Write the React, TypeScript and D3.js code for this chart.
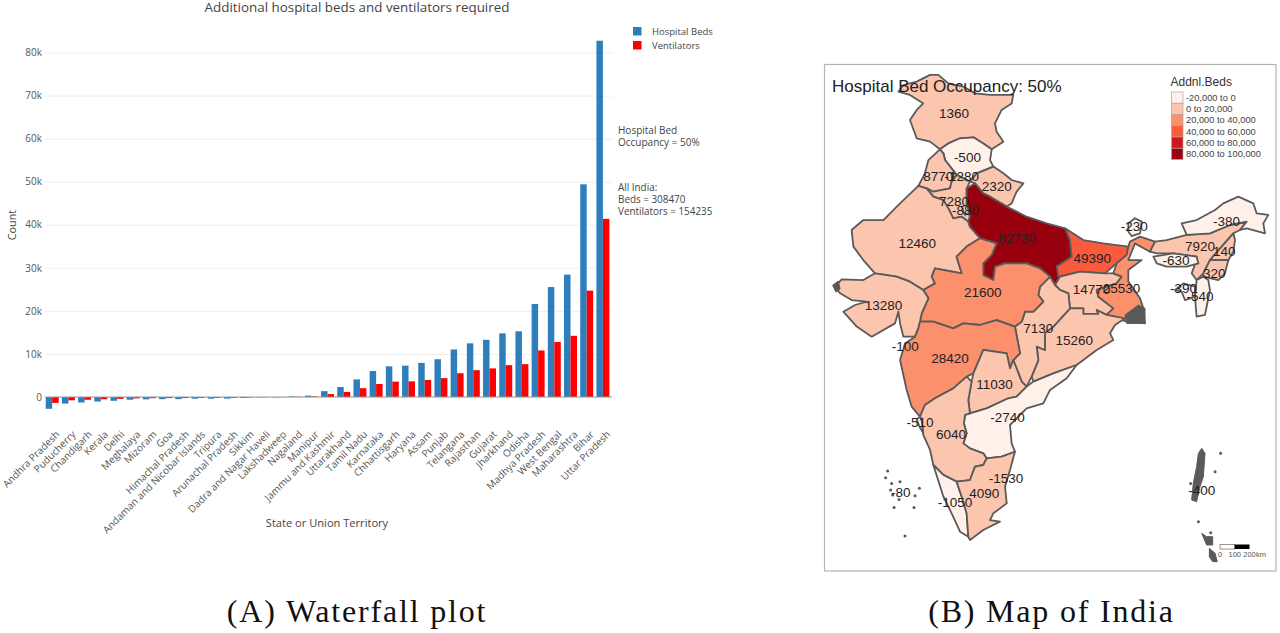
import React, { useEffect, useRef } from "react";
import * as d3 from "d3";

type LonLat = [number, number];

const states = [
  "Andhra Pradesh", "Puducherry", "Chandigarh", "Kerala", "Delhi", "Meghalaya", "Mizoram", "Goa",
  "Himachal Pradesh", "Andaman and Nicobar Islands", "Tripura", "Arunachal Pradesh", "Sikkim",
  "Dadra and Nagar Haveli", "Lakshadweep", "Nagaland", "Manipur", "Jammu and Kashmir", "Uttarakhand",
  "Tamil Nadu", "Karnataka", "Chhattisgarh", "Haryana", "Assam", "Punjab", "Telangana", "Rajasthan",
  "Gujarat", "Jharkhand", "Odisha", "Madhya Pradesh", "West Bengal", "Maharashtra", "Bihar", "Uttar Pradesh",
];

const beds = [
  -2740, -1530, -1280, -1050, -880, -630, -540, -510, -500, -400, -390, -380, -230, -100, -80, 140, 320,
  1360, 2320, 4090, 6040, 7130, 7280, 7920, 8770, 11030, 12460, 13280, 14770, 15260, 21600, 25530, 28420,
  49390, 82730,
];

const ventilators = [
  -1370, -765, -640, -525, -440, -315, -270, -255, -250, -200, -195, -190, -115, -50, -40, 70, 160,
  680, 1160, 2045, 3020, 3565, 3640, 3960, 4385, 5515, 6230, 6640, 7385, 7630, 10800, 12765, 14210,
  24695, 41365,
];

const yTicks = [0, 10000, 20000, 30000, 40000, 50000, 60000, 70000, 80000];
const seriesNames = ["Hospital Beds", "Ventilators"];
const seriesColors = ["#2e7ebb", "#ff0000"];

const binEdges = [0, 20000, 40000, 60000, 80000];
const binColors = ["#fff1ea", "#fcc5ae", "#fc8f6c", "#fb5a3c", "#d5141b", "#99000d"];
const binLabels = [
  "-20,000 to 0", "0 to 20,000", "20,000 to 40,000", "40,000 to 60,000", "60,000 to 80,000", "80,000 to 100,000",
];

// state outlines, lon/lat
const outlines: Record<string, LonLat[]> = {
  "Jammu and Kashmir": [[72.56,35.83],[72.89,36.25],[73.78,36.46],[74.67,36.88],[75.22,36.88],[75.89,36.35],[76.89,36.15],[77.67,35.73],[78.67,35.63],[80.22,35.63],[80.11,35.1],[79.44,34.69],[79,33.85],[79.11,33.33],[79.56,32.71],[78.78,32.23],[78.22,32.6],[77.56,32.98],[76.67,32.92],[75.89,32.6],[75.33,32.23],[74.67,32.71],[73.78,32.92],[73.33,34.06],[73.78,34.69],[74.22,35.1],[73.33,35.63]],
  "Himachal Pradesh": [[75.89,32.6],[76.67,32.92],[77.56,32.98],[78.22,32.6],[78.78,32.23],[78.67,31.56],[78.89,31.15],[77.78,30.73],[77.33,30.21],[76.44,30.63],[75.67,31.56],[75.56,31.98],[75.33,32.23]],
  Punjab: [[74.56,31.56],[75.33,32.23],[75.56,31.98],[75.67,31.56],[76.44,30.63],[76.11,30.21],[76,29.79],[74.89,29.58],[74.44,29.79],[73.89,29.94],[74.33,30.73]],
  Haryana: [[74.44,29.79],[74.89,29.58],[76,29.79],[76.11,30.21],[76.44,30.63],[77.33,30.21],[77.11,29.79],[77.11,28.85],[77.33,28.02],[77.22,27.71],[76.78,28.02],[76.22,27.92],[75.89,28.54],[75.56,29.06],[74.89,29.27]],
  Delhi: [[76.78,28.65],[77.22,28.75],[77.38,28.33],[77,28.13]],
  Chandigarh: [[76.18,30.73],[76.4,30.69],[76.33,30.48],[76.13,30.52]],
  Uttarakhand: [[77.78,30.73],[78.89,31.15],[79.56,30.73],[80.11,30.31],[80.89,30.1],[80.44,29.58],[80.11,28.85],[79.78,28.65],[78.67,29.27],[78.22,29.48],[77.67,30.1],[77.33,30.21]],
  Rajasthan: [[69.44,27.19],[70.22,27.81],[71.56,27.81],[72.67,28.85],[73.89,29.94],[74.44,29.79],[74.89,29.27],[75.56,29.06],[75.89,28.54],[76.22,27.92],[76.78,28.02],[77.22,27.71],[77.33,27.4],[78,26.67],[77.11,26.15],[76.44,25.52],[76.78,24.48],[75,24.79],[74.78,24.27],[75,23.85],[74.22,23.44],[73.33,23.96],[72.44,24.27],[71,24.48],[70.22,25.31],[69.56,26.15]],
  "Uttar Pradesh": [[77.11,29.79],[77.67,30.1],[78.22,29.48],[78.67,29.27],[79.78,28.65],[81.11,28.02],[82.44,27.6],[83.67,27.29],[84,26.56],[84.11,25.52],[83.11,24.9],[83.33,24.27],[83,23.75],[82.67,24.27],[82,24.79],[81.11,25.1],[79.67,25.1],[79,24.9],[78.89,24.06],[78.22,24.37],[78.22,25.1],[78.78,25.63],[79.11,26.35],[78,26.67],[77.33,27.4],[77.22,27.71],[77.33,28.02],[77.11,28.85]],
  Bihar: [[83.67,27.29],[84.89,26.56],[86.22,26.35],[87.89,26.15],[87.78,25.63],[87.11,25.1],[86.33,24.48],[84.67,24.58],[83.22,24.27],[83.11,24.9],[84.11,25.52],[84,26.56]],
  Jharkhand: [[83.33,24.27],[84.67,24.58],[86.33,24.48],[86.89,24.48],[87.44,24.27],[87.11,23.85],[85.78,23.44],[85.89,23.02],[86.89,22.29],[86.44,21.88],[85.78,22.19],[85.89,21.94],[84.89,21.94],[84.89,22.29],[84,22.29],[83.89,23.23],[83.33,23.44],[83,23.75]],
  "West Bengal": [[88,26.46],[88.67,26.77],[89.67,26.46],[89.33,25.83],[88.33,26.35],[87.89,25.31],[88.78,25.31],[87.89,24.69],[87.89,23.96],[88.67,22.92],[88.89,22.29],[89,21.35],[87.78,21.46],[86.44,21.88],[86.89,22.29],[85.89,23.02],[85.78,23.44],[87.11,23.85],[87.44,24.27],[86.89,24.48],[87.11,25.1],[87.78,25.63],[87.89,26.15]],
  Odisha: [[84,22.29],[84.89,22.29],[84.89,21.94],[85.89,21.94],[85.78,22.19],[86.44,21.88],[87.67,21.67],[87,21.25],[86.67,20.73],[86.89,20.31],[85.78,19.69],[84.89,19.06],[84.44,18.75],[82.89,18.23],[81.56,17.71],[81.44,18.02],[81.89,19.06],[81.78,19.9],[82.33,19.69],[82.33,20.73],[82.89,21.15]],
  Chhattisgarh: [[82,23.65],[82.67,24.27],[83,23.75],[83.33,23.44],[83.89,23.23],[84,22.29],[82.89,21.15],[82.33,20.73],[82.33,19.69],[81.78,19.9],[81.89,19.06],[81.44,18.02],[81.11,17.4],[80.78,17.71],[80.22,19.06],[80.67,19.48],[80.33,21.15],[80.78,21.46],[81,22.08],[81.56,22.08],[82.22,22.71],[81.89,23.13]],
  "Madhya Pradesh": [[76.44,25.52],[77.11,26.15],[78,26.67],[79.11,26.35],[78.78,25.63],[78.22,25.1],[78.22,24.37],[78.89,24.06],[79,24.9],[79.67,25.1],[81.11,25.1],[82,24.79],[82.67,24.27],[82,23.65],[81.89,23.13],[82.22,22.71],[81.56,22.08],[81,22.08],[80.78,21.46],[80.33,21.15],[79.11,21.56],[78,21.25],[76.89,21.35],[76.22,21.04],[74.89,21.46],[74,21.46],[74.11,21.98],[74.56,22.92],[74.22,23.44],[75,23.85],[74.78,24.27],[75,24.79],[76.78,24.48]],
  Gujarat: [[68.33,23.65],[68.78,24.1],[70.22,24.06],[71,24.48],[72.44,24.27],[73.33,23.96],[74.22,23.44],[74.56,22.92],[74.11,21.98],[74,21.46],[73.89,21.04],[73.67,20.52],[72.89,20.52],[72.67,21.35],[72.56,22.08],[72.33,21.35],[70.78,20.52],[69.78,21.15],[68.89,22.08],[69.67,22.5],[70.44,22.71],[69.44,22.81],[68.67,23.23]],
  Maharashtra: [[74,21.46],[74.89,21.46],[76.22,21.04],[76.89,21.35],[78,21.25],[79.11,21.56],[80.33,21.15],[80.67,19.48],[80.22,19.06],[80,18.54],[79.78,19.48],[78.22,19.69],[77.56,18.23],[77.11,18.02],[76.22,17.29],[75,16.67],[74.33,16.25],[74,15.52],[73.44,16.15],[73.11,17.19],[72.67,19.06],[73,20.1],[73.67,20.52],[73.89,21.04]],
  Telangana: [[78.22,19.69],[79.78,19.48],[80,18.54],[80.22,19.06],[80.78,17.71],[81.11,17.4],[80.44,16.77],[79.89,16.67],[78.44,16.04],[77.33,15.73],[77.22,16.56],[77.44,17.71],[77.56,18.23]],
  "Andhra Pradesh": [[77,15.63],[78.44,16.04],[79.89,16.67],[80.44,16.77],[81.11,17.4],[81.56,17.71],[82.89,18.23],[84.44,18.75],[83.78,17.92],[82.67,17.19],[82.22,16.35],[81.11,16.04],[80.44,15.42],[80,15],[80.11,13.85],[80.33,13.33],[79.44,13.02],[78.44,12.92],[78.22,13.23],[77.33,13.54],[76.89,13.85],[77.11,14.48],[76.93,15.1]],
  Karnataka: [[74.33,16.25],[75,16.67],[76.22,17.29],[77.11,18.02],[77.44,17.71],[77.22,16.56],[77.33,15.73],[77,15.63],[76.93,15.1],[77.11,14.48],[76.89,13.85],[77.33,13.54],[78.22,13.23],[78.44,12.92],[78.22,12.5],[77.67,12.4],[77.33,11.56],[76.44,11.46],[75.56,11.88],[74.89,12.5],[74.67,13.44],[74.22,14.38],[74.11,15.31],[74,15.52]],
  Goa: [[74,15.52],[74.11,15.31],[74.22,14.48],[73.96,14.9],[73.78,15.35]],
  Kerala: [[74.89,12.5],[75.56,11.88],[76.44,11.46],[76.78,10.52],[77.11,9.48],[77.22,8.02],[76.67,8.33],[76.11,9.48],[75.56,10.52]],
  "Tamil Nadu": [[76.44,11.46],[77.33,11.56],[77.67,12.4],[78.22,12.5],[78.44,12.92],[79.44,13.02],[80.33,13.33],[80,12.19],[79.67,11.15],[79.78,10.1],[78.89,9.48],[78.67,9.06],[79.33,8.96],[78.22,8.44],[77.33,7.81],[77.22,8.02],[77.11,9.48],[76.78,10.52]],
  Sikkim: [[87.89,27.6],[88.33,27.92],[88.78,27.71],[88.67,26.98],[88.11,26.81],[87.89,27.08]],
  Assam: [[89.67,26.46],[90.44,26.56],[91.78,26.88],[93.33,26.98],[94.67,27.5],[95.78,27.71],[95.33,27.19],[94.89,26.98],[94.11,26.15],[93.33,25.31],[92.89,24.48],[92.44,24.06],[92.11,24.48],[92.44,25.31],[92.44,25.52],[90.89,25.73],[89.78,25.73],[89.33,25.83]],
  "Arunachal Pradesh": [[91.44,27.6],[92.44,27.81],[93.67,28.44],[94.22,28.85],[95.22,29.27],[96.22,28.85],[96.44,28.23],[97.22,28.13],[96.89,27.6],[97,26.98],[95.78,27.29],[95.33,27.19],[95.78,27.71],[94.67,27.5],[93.33,26.98],[91.78,26.88]],
  Meghalaya: [[89.56,25.52],[90.89,25.73],[92.44,25.52],[92.56,25.1],[91.78,24.9],[90.44,24.9],[89.78,25.1]],
  Nagaland: [[94.11,26.15],[94.89,26.98],[95,26.56],[94.89,25.83],[94.56,25.31],[93.33,25.31]],
  Manipur: [[93.33,25.31],[94.56,25.31],[94.33,24.48],[93.89,24.06],[92.89,24.27],[92.89,24.48]],
  Mizoram: [[92.44,24.06],[92.89,24.27],[93.22,24.06],[93.33,23.44],[93,21.88],[92.44,21.77],[92.33,23.02]],
  Tripura: [[91,23.44],[91.56,23.85],[92.33,23.65],[92.33,23.02],[91.67,22.81],[91.44,23.33]],
};

// dark patches with no fill class: delta, Kutch coast and island groups
const sundarbans: LonLat[] = [[88.56,22.5],[89,22.29],[89,21.35],[87.78,21.35],[87.67,21.88]];
const kutchCoast: LonLat[] = [[68.18,23.73],[68.55,24],[68.67,23.5],[68.4,23.3]];
const andaman: LonLat[] = [[92.78,13.54],[93,13.23],[92.89,11.77],[92.67,11.15],[92.44,10.21],[92.11,10.31],[92.22,11.35],[92.44,12.4],[92.56,13.23]];
const carNicobar: LonLat[] = [[92.78,8.23],[93.11,8.02],[93.51,8.02],[93.51,7.5],[93.11,7.5]];
const greatNicobar: LonLat[] = [[93.29,7.29],[93.67,6.98],[93.82,6.46],[93.51,6.46],[93.29,6.77]];
const lakshadweepDots: LonLat[] = [[71.84,12.13],[71.71,11.71],[72.11,11.35],[72.67,11.46],[73.96,11.04],[72.04,10.94],[72.18,10.62],[72.6,10.35],[73.67,10.58],[72.27,9.85],[73.6,9.85],[73,8.06]];
const otherIslandDots: LonLat[] = [[92.56,8.96],[92.04,11.35],[94.04,13.23],[93.67,12.08],[93.38,8.27]];

const labelSpots: Record<string, LonLat> = {
  "Jammu and Kashmir": [76.27,34.48], "Himachal Pradesh": [77.16,31.73], Punjab: [75.22,30.58], Chandigarh: [76.78,30.58],
  Uttarakhand: [79.11,29.94], Haryana: [76.27,28.98], Delhi: [77.04,28.44], Rajasthan: [73.82,26.35],
  "Uttar Pradesh": [80.49,26.71], Bihar: [85.49,25.46], Sikkim: [88.29,27.4], "Arunachal Pradesh": [94.44,27.77],
  Assam: [92.67,26.15], Nagaland: [94.29,25.87], Meghalaya: [91.07,25.31], Manipur: [93.62,24.52], Tripura: [91.56,23.54],
  Mizoram: [92.67,23.06], "Madhya Pradesh": [78.18,23.33], Jharkhand: [85.44,23.5], "West Bengal": [87.44,23.58],
  Gujarat: [71.56,22.5], "Dadra and Nagar Haveli": [73.02,19.96], Maharashtra: [76,19.21], Chhattisgarh: [81.89,21.04],
  Odisha: [84.29,20.31], Telangana: [78.96,17.54], Goa: [74,15.15], "Andhra Pradesh": [79.84,15.48], Karnataka: [76.07,14.44],
  Puducherry: [79.73,11.71], "Tamil Nadu": [78.29,10.73], Kerala: [76.33,10.21], Lakshadweep: [72.71,10.79],
  "Andaman and Nicobar Islands": [92.78,10.94],
};

const scaleKm = [0, 100, 200];

const polygon = (ring: LonLat[]) => ({
  type: "Feature",
  properties: {},
  geometry: { type: "Polygon", coordinates: [[...ring, ring[0]]] },
});

const App: React.FC = () => {
  const svgRef = useRef<SVGSVGElement>(null);

  useEffect(() => {
    const svg = d3.select(svgRef.current);
    svg.selectAll("*").remove();

    // --- bar chart ---
    const x0 = d3.scaleBand().domain(states).range([44.1, 611]);
    const x1 = d3.scaleBand().domain(seriesNames).range([0, x0.bandwidth()]).paddingOuter(0.25);
    const y = d3.scaleLinear().domain([0, 80000]).range([397, 52.5]);
    const chartFont = "'Open Sans', sans-serif";

    const yAxis = d3
      .axisLeft(y)
      .tickValues(yTicks)
      .tickSize(-567)
      .tickPadding(3)
      .tickFormat((d) => (+d === 0 ? "0" : `${+d / 1000}k`));
    const yG = svg.append("g").attr("transform", "translate(45,0)").call(yAxis as any);
    yG.select(".domain").remove();
    yG.selectAll(".tick line").attr("stroke", "#eeeeee");
    yG.selectAll(".tick text").attr("x", -3).attr("fill", "#555").attr("font-size", 10).attr("font-family", chartFont);

    const groups = [beds, ventilators];
    groups.forEach((values, s) => {
      svg
        .append("g")
        .selectAll("rect")
        .data(values)
        .join("rect")
        .attr("x", (_, i) => (x0(states[i]) ?? 0) + (x1(seriesNames[s]) ?? 0))
        .attr("width", x1.bandwidth())
        .attr("y", (d) => Math.min(y(d), y(0)))
        .attr("height", (d) => Math.abs(y(d) - y(0)))
        .attr("fill", seriesColors[s]);
    });

    svg
      .append("line")
      .attr("x1", 45)
      .attr("x2", 612)
      .attr("y1", y(0))
      .attr("y2", y(0))
      .attr("stroke", "#9a9a9a")
      .attr("stroke-width", 1);

    svg
      .append("g")
      .selectAll("text")
      .data(states)
      .join("text")
      .attr("transform", (d) => `translate(${(x0(d) ?? 0) + x0.bandwidth() / 2 + 8},435) rotate(-45)`)
      .attr("text-anchor", "end")
      .attr("font-family", chartFont)
      .attr("font-size", 10)
      .attr("fill", "#555")
      .text((d) => d);

    const chartText = (t: string, px: number, py: number, size: number, anchor = "start", fill = "#444") =>
      svg
        .append("text")
        .attr("x", px)
        .attr("y", py)
        .attr("font-family", chartFont)
        .attr("font-size", size)
        .attr("text-anchor", anchor)
        .attr("fill", fill)
        .text(t);

    chartText("Additional hospital beds and ventilators required", 357, 12, 13.4, "middle");
    chartText("State or Union Territory", 327, 527, 11.1, "middle");
    svg
      .append("text")
      .attr("transform", "translate(16,225) rotate(-90)")
      .attr("text-anchor", "middle")
      .attr("font-family", chartFont)
      .attr("font-size", 10.8)
      .attr("fill", "#444")
      .text("Count");

    seriesNames.forEach((name, i) => {
      svg
        .append("rect")
        .attr("x", 633)
        .attr("y", 27 + i * 14)
        .attr("width", 8.5)
        .attr("height", 8.5)
        .attr("fill", seriesColors[i]);
      chartText(name, 652, 34.5 + i * 14, 9.5);
    });

    ["Hospital Bed", "Occupancy = 50%"].forEach((t, i) => chartText(t, 618, 133.5 + i * 12.5, 10));
    ["All India:", "Beds = 308470", "Ventilators = 154235"].forEach((t, i) => chartText(t, 618, 190.5 + i * 12, 9.9));

    // --- map ---
    const mapFont = "'Liberation Sans', Arial, sans-serif";
    const lon = d3.scaleLinear().domain([68, 98]).range([830, 1280]);
    const lat = d3.scaleLinear().domain([37, 7]).range([73, 553]);
    const projection = d3.geoTransform({
      point(this: any, px: number, py: number) {
        this.stream.point(lon(px), lat(py));
      },
    });
    const path = d3.geoPath(projection);
    const binColor = d3.scaleThreshold<number, string>().domain(binEdges).range(binColors);
    const edge = "#5a5a5a";

    svg
      .append("rect")
      .attr("x", 824.5)
      .attr("y", 64.5)
      .attr("width", 451.5)
      .attr("height", 506.5)
      .attr("fill", "#fff")
      .attr("stroke", "#b5b5b5")
      .attr("stroke-width", 1.2);

    svg
      .append("g")
      .selectAll("path")
      .data(Object.keys(outlines))
      .join("path")
      .attr("d", (d) => path(polygon(outlines[d]) as any))
      .attr("fill", (d) => binColor(beds[states.indexOf(d)]))
      .attr("stroke", edge)
      .attr("stroke-width", 1.8)
      .attr("stroke-linejoin", "round");

    svg
      .append("g")
      .selectAll("path")
      .data([sundarbans, kutchCoast, andaman, carNicobar, greatNicobar])
      .join("path")
      .attr("d", (d) => path(polygon(d) as any))
      .attr("fill", edge)
      .attr("stroke", edge);

    svg
      .append("g")
      .selectAll("circle")
      .data([...lakshadweepDots, ...otherIslandDots])
      .join("circle")
      .attr("cx", (d) => lon(d[0]))
      .attr("cy", (d) => lat(d[1]))
      .attr("r", 1.5)
      .attr("fill", edge);

    svg
      .append("g")
      .selectAll("text")
      .data(Object.keys(labelSpots))
      .join("text")
      .attr("x", (d) => lon(labelSpots[d][0]))
      .attr("y", (d) => lat(labelSpots[d][1]))
      .attr("dy", "0.36em")
      .attr("text-anchor", "middle")
      .attr("font-family", mapFont)
      .attr("font-size", 13.5)
      .attr("fill", "#222")
      .text((d) => beds[states.indexOf(d)]);

    svg
      .append("text")
      .attr("x", 832)
      .attr("y", 92)
      .attr("font-family", mapFont)
      .attr("font-size", 17)
      .attr("fill", "#222")
      .text("Hospital Bed Occupancy: 50%");

    svg
      .append("text")
      .attr("x", 1170.5)
      .attr("y", 86)
      .attr("font-family", mapFont)
      .attr("font-size", 12)
      .attr("fill", "#333")
      .text("Addnl.Beds");

    const legendY = d3.scaleBand().domain(binLabels).range([92, 159.5]);
    svg
      .append("g")
      .selectAll("rect")
      .data(binLabels)
      .join("rect")
      .attr("x", 1171.5)
      .attr("y", (d) => legendY(d) ?? 0)
      .attr("width", 11.5)
      .attr("height", legendY.bandwidth())
      .attr("fill", (_, i) => binColors[i])
      .attr("stroke", "#a8a8a8")
      .attr("stroke-width", 0.7);
    svg
      .append("g")
      .selectAll("text")
      .data(binLabels)
      .join("text")
      .attr("x", 1186)
      .attr("y", (d) => (legendY(d) ?? 0) + legendY.bandwidth() / 2)
      .attr("dy", "0.36em")
      .attr("font-family", mapFont)
      .attr("font-size", 9.3)
      .attr("fill", "#444")
      .text((d) => d);

    // scale bar
    const km = d3.scaleLinear().domain([0, 200]).range([1220, 1249.5]);
    svg
      .append("rect")
      .attr("x", km(0))
      .attr("y", 544.5)
      .attr("width", km(100) - km(0))
      .attr("height", 4.5)
      .attr("fill", "#fff")
      .attr("stroke", "#333")
      .attr("stroke-width", 0.5);
    svg
      .append("rect")
      .attr("x", km(100))
      .attr("y", 544.5)
      .attr("width", km(200) - km(100))
      .attr("height", 4.5)
      .attr("fill", "#000");
    svg
      .append("g")
      .selectAll("text")
      .data(scaleKm)
      .join("text")
      .attr("x", (d) => km(d))
      .attr("y", 557)
      .attr("text-anchor", "middle")
      .attr("font-family", mapFont)
      .attr("font-size", 7.5)
      .attr("fill", "#555")
      .text((d) => d);
    svg
      .append("text")
      .attr("x", 1256)
      .attr("y", 557)
      .attr("font-family", mapFont)
      .attr("font-size", 7.5)
      .attr("fill", "#555")
      .text("km");

    // captions
    const capFont = "'Liberation Serif', 'DejaVu Serif', serif";
    svg
      .append("text")
      .attr("x", 357)
      .attr("y", 622)
      .attr("text-anchor", "middle")
      .attr("font-family", capFont)
      .attr("font-size", 32)
      .attr("letter-spacing", 1.8)
      .attr("fill", "#111")
      .text("(A) Waterfall plot");
    svg
      .append("text")
      .attr("x", 1051.5)
      .attr("y", 622)
      .attr("text-anchor", "middle")
      .attr("font-family", capFont)
      .attr("font-size", 32)
      .attr("letter-spacing", 1.8)
      .attr("fill", "#111")
      .text("(B) Map of India");
  }, []);

  return (
    <svg
      ref={svgRef}
      width={1280}
      height={633}
      style={{ position: "absolute", left: 0, top: 0, background: "#fff" }}
    />
  );
};

export default App;
